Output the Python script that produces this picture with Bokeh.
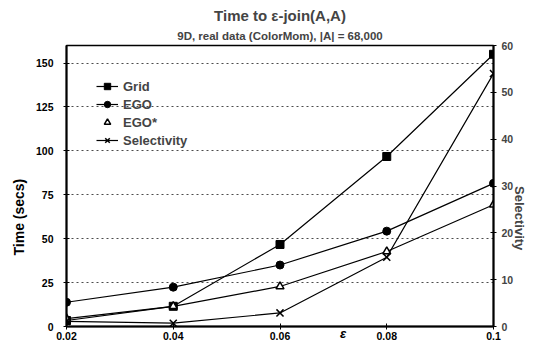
import math
from bokeh.plotting import figure
from bokeh.models import Range1d, LinearAxis, FixedTicker, NumeralTickFormatter, Title, Legend, LegendItem
from bokeh.embed import file_html
from bokeh.resources import INLINE

eps = [0.02, 0.04, 0.06, 0.08, 0.1]
grid_t = [3.4, 11.5, 46.7, 96.8, 155.0]
ego_t = [13.8, 22.4, 35.0, 54.3, 81.5]
egostar_t = [4.5, 11.5, 22.8, 42.7, 69.3]
selectivity = [1.1, 0.7, 2.9, 14.8, 54.0]

x_ticks = [0.02, 0.04, 0.06, 0.08, 0.1]
left_ticks = [0, 25, 50, 75, 100, 125, 150]
right_ticks = [0, 10, 20, 30, 40, 50, 60]

FONT = "Liberation Sans"
NB = "\u00a0"

p = figure(width=537, height=356, output_backend="svg", toolbar_location=None,
           x_range=Range1d(0.02, 0.1), y_range=Range1d(0, 160),
           min_border_left=66, min_border_right=44, min_border_top=45, min_border_bottom=30)
p.extra_y_ranges = {"sel": Range1d(0, 60)}

p.title.text = "Time to \u03b5-join(A,A)"
p.title.align = "center"
p.title.text_font = FONT
p.title.text_font_size = "15px"
p.title.text_font_style = "bold"
p.title.standoff = 0
sub = Title(text="9D, real data (ColorMom), |A| = 68,000", align="center", text_font=FONT,
            text_font_size="11.5px", text_font_style="bold", standoff=8)
p.add_layout(sub, "above")

p.outline_line_color = "black"
p.outline_line_width = 1.5
p.background_fill_color = "white"
p.border_fill_color = "white"

p.xgrid.visible = False
p.ygrid.ticker = FixedTicker(ticks=left_ticks[1:])
p.ygrid.grid_line_color = "black"
p.ygrid.grid_line_dash = "2 3"
p.ygrid.grid_line_width = 1
p.ygrid.grid_line_alpha = 0.7

for ax in (p.xaxis[0], p.yaxis[0]):
    ax.axis_line_width = 2
    ax.axis_line_color = "black"
    ax.major_tick_in = 3
    ax.major_tick_out = 3
    ax.minor_tick_line_color = None
    ax.major_label_text_font = FONT
    ax.major_label_text_font_size = "10.5px"
    ax.major_label_text_font_style = "bold"
    ax.major_label_text_color = "black"
    ax.axis_label_text_font = FONT
    ax.axis_label_text_font_style = "bold"
    ax.axis_label_text_color = "black"

p.xaxis.ticker = FixedTicker(ticks=x_ticks)
p.xaxis.formatter = NumeralTickFormatter(format="0.0[0]")
p.xaxis.major_label_standoff = 2
p.xaxis.axis_label = NB * 35 + "\u03b5"
p.xaxis.axis_label_text_font_size = "13px"
p.xaxis.axis_label_text_font_style = "bold italic"
p.xaxis.axis_label_standoff = -17

p.yaxis.ticker = FixedTicker(ticks=left_ticks)
p.yaxis.axis_label = "Time (secs)" + NB * 16
p.yaxis.axis_label_text_font_size = "14px"
p.yaxis.major_label_standoff = 10
p.yaxis.axis_label_standoff = 6

rax = LinearAxis(y_range_name="sel", ticker=FixedTicker(ticks=right_ticks),
                 axis_label="Selectivity", axis_label_text_font=FONT,
                 axis_label_text_font_style="bold", axis_label_text_font_size="13px",
                 axis_label_standoff=3,
                 major_label_text_font=FONT, major_label_text_font_size="10.5px",
                 major_label_text_font_style="bold", major_label_standoff=5, axis_line_width=2,
                 major_tick_in=3, major_tick_out=3, minor_tick_line_color=None)
if "axis_label_orientation" in rax.properties():
    rax.axis_label_orientation = -math.pi / 2
p.add_layout(rax, "right")

r1l = p.line(eps, grid_t, line_color="black", line_width=1.2)
r1m = p.scatter(eps, grid_t, marker="square", size=8, fill_color="black", line_color="black")
r2l = p.line(eps, ego_t, line_color="black", line_width=1.2)
r2m = p.scatter(eps, ego_t, marker="circle", size=8, fill_color="black", line_color="black")
r3l = p.line(eps, egostar_t, line_color="black", line_width=1.2)
r3m = p.scatter(eps, egostar_t, marker="triangle", size=8, fill_color="white", line_color="black", line_width=1.5)
r4l = p.line(eps, selectivity, line_color="black", line_width=1.2, y_range_name="sel")
r4m = p.scatter(eps, selectivity, marker="x", size=10, line_color="black", line_width=1.5, y_range_name="sel")

legend = Legend(items=[
    LegendItem(label="Grid", renderers=[r1l, r1m]),
    LegendItem(label="EGO", renderers=[r2l, r2m]),
    LegendItem(label="EGO*", renderers=[r3m]),
    LegendItem(label="Selectivity", renderers=[r4l, r4m]),
], location=(30, 178))
legend.background_fill_alpha = 0
legend.border_line_color = None
legend.label_text_font = FONT
legend.label_text_font_size = "13px"
legend.label_text_font_style = "bold"
legend.glyph_width = 22
legend.glyph_height = 16
legend.spacing = 2
legend.padding = 4
legend.label_standoff = 5
legend.margin = 0
p.add_layout(legend, "center")

open("out.html", "w").write(file_html(p, INLINE))
